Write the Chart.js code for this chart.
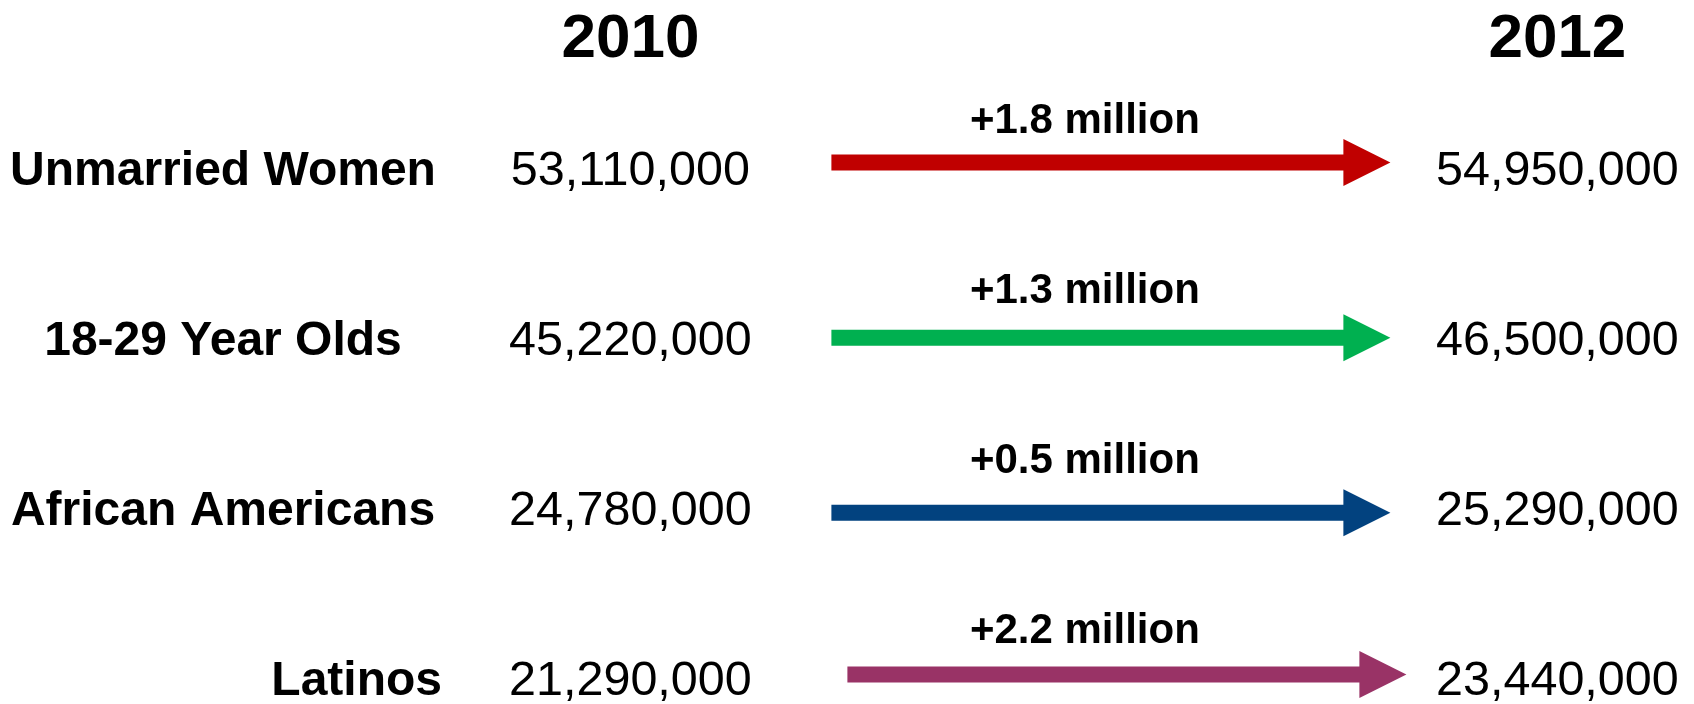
<!DOCTYPE html>
<html>
<head>
<meta charset="utf-8">
<title>Growth 2010 - 2012</title>
<script src="https://cdn.jsdelivr.net/npm/chart.js@4.4.1/dist/chart.umd.min.js"></script>
<style>
    html, body { margin: 0; padding: 0; background: #fff; }
    canvas { display: block; }
</style>
</head>
<body>
<canvas id="growth-chart" width="1694" height="704"></canvas>
<script>
const groups = ['Unmarried Women', '18-29 Year Olds', 'African Americans', 'Latinos'];
const years = [2010, 2012];
const count2010 = [53110000, 45220000, 24780000, 21290000];
const count2012 = [54950000, 46500000, 25290000, 23440000];

const arrowColors = ['#C00000', '#00B050', '#02427F', '#993366'];
const FONT = '"Liberation Sans", Arial, sans-serif';

// small per-row tweaks so the arrows sit like on the original slide
const arrowNudge = [
    { dx: 0, dy: -5 },
    { dx: 0, dy: 0 },
    { dx: 0, dy: 5 },
    { dx: 16, dy: -3.5 }
];
// where the group names go: three centred, Latinos pushed right
const nameAnchor = [
    { x: 223, align: 'center' },
    { x: 223, align: 'center' },
    { x: 223, align: 'center' },
    { x: 442, align: 'right' }
];

function changeLabel(i) {
    let diff = Math.round((count2012[i] - count2010[i]) / 100000) / 10;
    return '+' + diff.toFixed(1) + ' million';
}

// draws the arrows plus all the row texts on top of the (invisible) bars
const rowText = {
    id: 'rowText',
    afterDatasetsDraw(chart) {
        const ctx = chart.ctx;
        const meta = chart.getDatasetMeta(0);
        ctx.save();
        meta.data.forEach((bar, i) => {
            const rowY = bar.y;
            const n = arrowNudge[i];
            const start = bar.base + 201 + n.dx;
            const tip = bar.x - 167 + n.dx;
            const headBase = tip - 47;
            const ay = rowY + n.dy;

            ctx.fillStyle = arrowColors[i];
            ctx.beginPath();
            ctx.moveTo(start, ay - 8);
            ctx.lineTo(headBase, ay - 8);
            ctx.lineTo(headBase, ay - 23.5);
            ctx.lineTo(tip, ay);
            ctx.lineTo(headBase, ay + 23.5);
            ctx.lineTo(headBase, ay + 8);
            ctx.lineTo(start, ay + 8);
            ctx.closePath();
            ctx.fill();

            ctx.fillStyle = '#000';
            ctx.textBaseline = 'alphabetic';

            ctx.font = 'bold 48px ' + FONT;
            ctx.textAlign = nameAnchor[i].align;
            ctx.fillText(groups[i], nameAnchor[i].x, rowY + 17);

            ctx.font = '48.5px ' + FONT;
            ctx.textAlign = 'center';
            ctx.fillText(count2010[i].toLocaleString('en-US'), bar.base, rowY + 17);
            ctx.fillText(count2012[i].toLocaleString('en-US'), bar.x, rowY + 17);

            ctx.font = 'bold 42px ' + FONT;
            ctx.fillText(changeLabel(i), (bar.base + bar.x) / 2 - 9, rowY - 35);
        });
        ctx.restore();
    }
};

const ctx = document.getElementById('growth-chart').getContext('2d');
const growthChart = new Chart(ctx, {
    type: 'bar',
    data: {
        labels: groups,
        datasets: [{
            label: 'Change',
            data: groups.map(() => [years[0], years[1]]),
            backgroundColor: 'rgba(0,0,0,0)',
            borderWidth: 0
        }]
    },
    options: {
        indexAxis: 'y',
        responsive: false,
        animation: false,
        layout: {
            padding: { top: 4.5, left: 445, right: 2.2, bottom: 26 }
        },
        scales: {
            x: {
                type: 'linear',
                position: 'top',
                min: 2009.6,
                max: 2012.29,
                grid: { display: false, drawTicks: false },
                border: { display: false },
                afterBuildTicks: (axis) => {
                    axis.ticks = years.map(v => ({ value: v }));
                },
                afterFit: (axis) => {
                    // year headers sit high above the rows; don't let the
                    // big tick padding eat into the plot width
                    axis.height = 163;
                    axis.paddingLeft = 0;
                    axis.paddingRight = 0;
                },
                ticks: {
                    autoSkip: false,
                    maxRotation: 0,
                    padding: 97,
                    color: '#000',
                    font: { family: FONT, size: 62, weight: 'bold', lineHeight: 1 },
                    callback: (v) => String(v)
                }
            },
            y: {
                type: 'category',
                display: false,
                offset: false
            }
        },
        plugins: {
            legend: { display: false },
            tooltip: { enabled: false }
        }
    },
    plugins: [rowText]
});
</script>
</body>
</html>
